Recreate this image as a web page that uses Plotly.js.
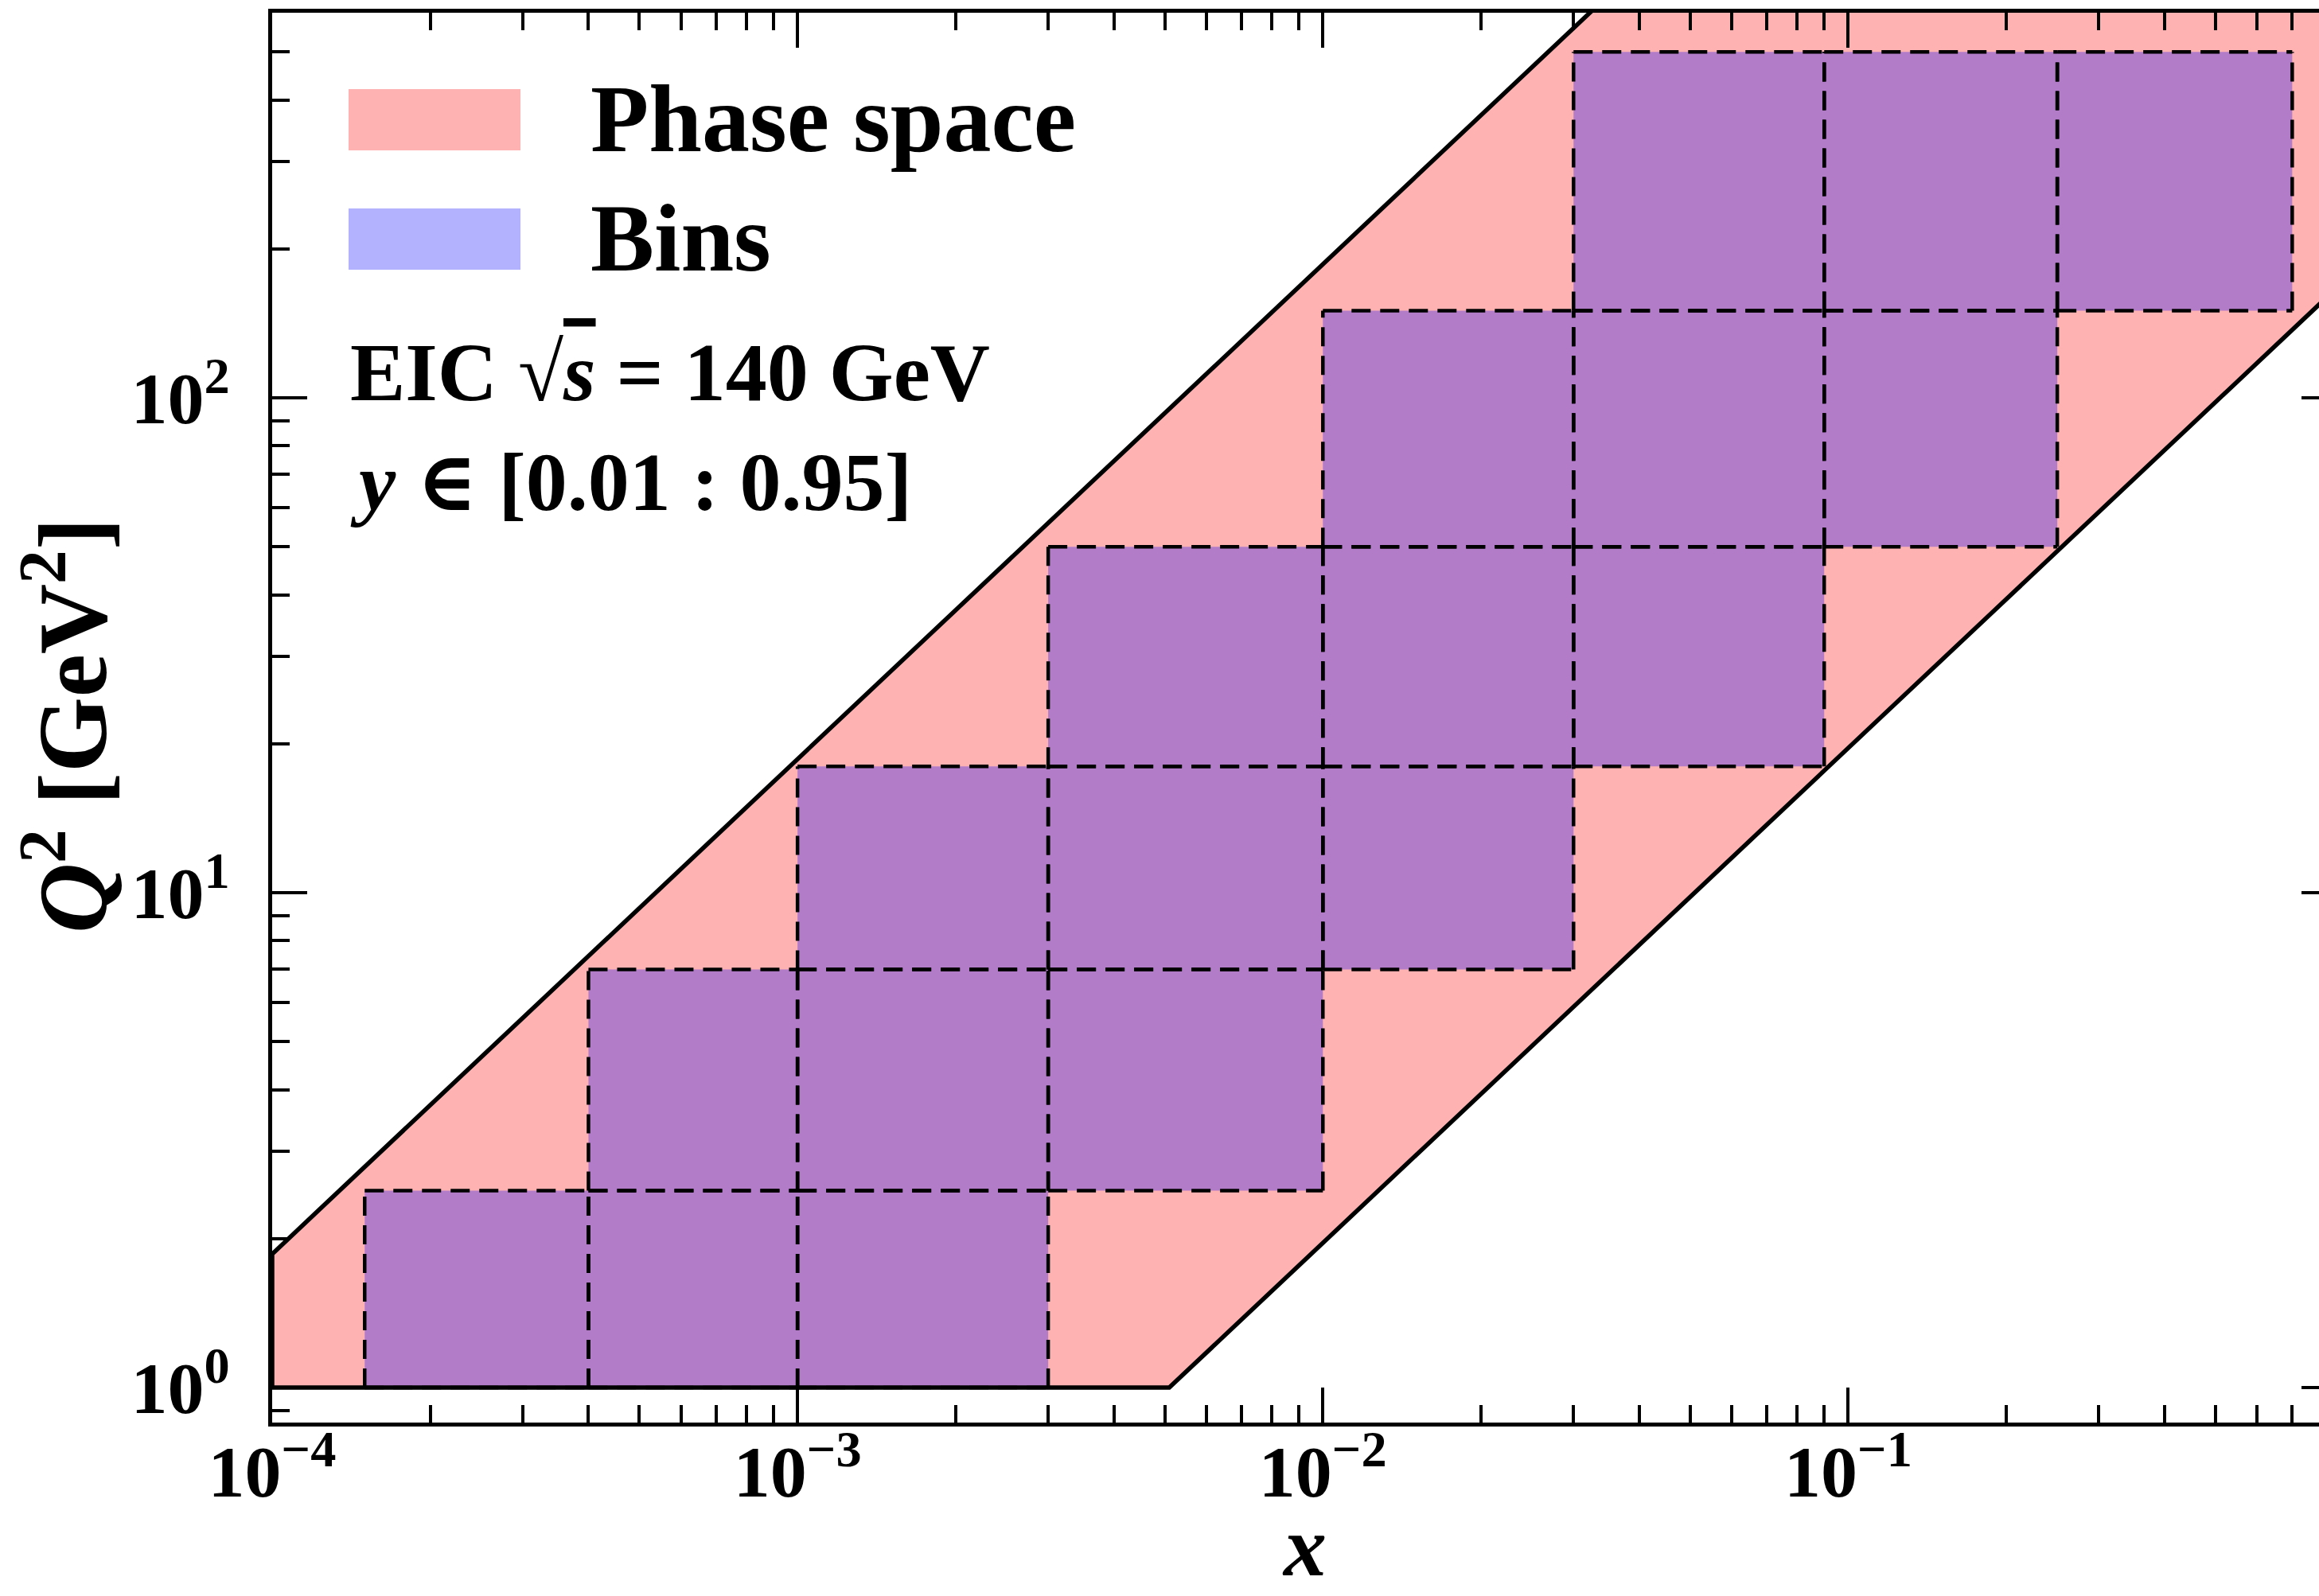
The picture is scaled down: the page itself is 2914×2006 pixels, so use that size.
<!DOCTYPE html>
<html>
<head>
<meta charset="utf-8">
<script src="https://cdn.plot.ly/plotly-3.0.1.min.js"></script>
<style>
html, body { margin:0; padding:0; overflow:hidden; background:#ffffff; }
#chart { width:2960px; height:2006px; }
</style>
</head>
<body>
<div id="chart"></div>
<script>
// ---- Data ----
// Phase-space boundary (EIC, sqrt(s)=140 GeV, y in [0.01, 0.95]); vertices (x, Q^2)
const phaseX  = [1e-4, 5.1e-3, 1.0, 1.0, 1e-4, 1e-4];
const phaseQ2 = [1.0, 1.0, 196, 18620, 1.862, 1.0];

// Analysis bins: x edges and Q^2 edges
const binXlo  = [1.5e-4, 4e-4, 1e-3,   4e-4, 1e-3, 3e-3,   1e-3, 3e-3, 1e-2,   3e-3, 1e-2, 3e-2,   1e-2, 3e-2, 9e-2,   3e-2, 9e-2, 0.25];
const binXhi  = [4e-4,   1e-3, 3e-3,   1e-3, 3e-3, 1e-2,   3e-3, 1e-2, 3e-2,   1e-2, 3e-2, 9e-2,   3e-2, 9e-2, 0.25,   9e-2, 0.25, 0.7];
const binQ2lo = [1, 1, 1,   2.5, 2.5, 2.5,   7, 7, 7,   18, 18, 18,   50, 50, 50,   150, 150, 150];
const binQ2hi = [2.5, 2.5, 2.5,   7, 7, 7,   18, 18, 18,   50, 50, 50,   150, 150, 150,   500, 500, 500];

// Axis ticks and labels
const xTickVals = [1e-4, 1e-3, 1e-2, 1e-1];
const xTickText = ['10<sup>\u22124</sup>', '10<sup>\u22123</sup>', '10<sup>\u22122</sup>', '10<sup>\u22121</sup>'];
const yTickVals = [1, 10, 100];
const yTickText = ['10<sup>0</sup>', '10<sup>1</sup>', '10<sup>2</sup>'];
const xRange = [1e-4, 0.85];
const yRange = [0.85, 600];
const xTitle = '<i>x</i>';
const yTitle = '<i>Q</i><sup>2</sup> [GeV<sup>2</sup>]';

const legendLabels = ['Phase space', 'Bins'];
const infoLines = ['EIC \u221A<span style="text-decoration:overline"><i>s</i></span> = 140 GeV', '<i>y</i> \u2208 [0.01 : 0.95]'];

// ---- Build traces ----
const FONT = 'Liberation Serif, DejaVu Serif, serif';
const pink = 'rgba(255,0,0,0.3)';
const blue = 'rgba(0,0,255,0.3)';

// bin fills (separate closed shapes via gaps)
const fx = [], fy = [];
// bin dashed edges (each edge a separate sub-path, drawn left->right / bottom->top)
const ex = [], ey = [];
for (let i = 0; i < binXlo.length; i++) {
  fx.push(binXlo[i], binXhi[i], binXhi[i], binXlo[i], binXlo[i], null);
  fy.push(binQ2lo[i], binQ2lo[i], binQ2hi[i], binQ2hi[i], binQ2lo[i], null);
  ex.push(binXlo[i], binXhi[i], null, binXlo[i], binXhi[i], null, binXlo[i], binXlo[i], null, binXhi[i], binXhi[i], null);
  ey.push(binQ2lo[i], binQ2lo[i], null, binQ2hi[i], binQ2hi[i], null, binQ2lo[i], binQ2hi[i], null, binQ2lo[i], binQ2hi[i], null);
}

const traces = [
  { type:'scatter', mode:'none', x:phaseX, y:phaseQ2, fill:'toself', fillcolor:pink,
    name:legendLabels[0], showlegend:false, hoverinfo:'skip' },
  { type:'scatter', mode:'none', x:fx, y:fy, fill:'toself', fillcolor:blue,
    name:legendLabels[1], showlegend:false, hoverinfo:'skip', connectgaps:false },
  { type:'scatter', mode:'lines', x:ex, y:ey, connectgaps:false,
    line:{color:'#000000', width:4.5, dash:'24px,12px'}, showlegend:false, hoverinfo:'skip' },
  { type:'scatter', mode:'lines', x:phaseX, y:phaseQ2,
    line:{color:'#000000', width:5.5}, showlegend:false, hoverinfo:'skip' }
];

// minor tick positions (axis decoration)
function minorTicks(lo, hi) {
  const out = [];
  for (let e = Math.floor(Math.log10(lo)); e <= Math.ceil(Math.log10(hi)); e++) {
    for (let d = 2; d <= 9; d++) {
      const v = d * Math.pow(10, e);
      if (v >= lo && v <= hi) out.push(v);
    }
  }
  return out;
}

// ---- Layout ----
const W = 2960, H = 2006;
const M = {l:342, r:24, t:16, b:218};
const pw = W - M.l - M.r, ph = H - M.t - M.b;
const px = v => (v - M.l) / pw;          // pixel -> paper x
const py = v => (H - M.b - v) / ph;      // pixel -> paper y

const tickFont = {family:FONT, size:92, color:'#000', weight:'bold'};
const axisCommon = {
  type:'log', showgrid:false, zeroline:false,
  showline:true, linecolor:'#000', linewidth:5, mirror:'ticks',
  ticks:'inside', ticklen:44, tickwidth:4, tickcolor:'#000',
  tickmode:'array', tickfont:tickFont
};

const layout = {
  width:W, height:H,
  margin:M,
  paper_bgcolor:'#ffffff', plot_bgcolor:'#ffffff',
  showlegend:false,
  xaxis: Object.assign({}, axisCommon, {
    range:[Math.log10(xRange[0]), Math.log10(xRange[1])],
    tickvals:xTickVals, ticktext:xTickText, ticklabelstandoff:-22,
    minor:{tickmode:'array', tickvals:minorTicks(xRange[0], xRange[1]), ticks:'inside', ticklen:22, tickwidth:4, tickcolor:'#000', showgrid:false}
  }),
  yaxis: Object.assign({}, axisCommon, {
    range:[Math.log10(yRange[0]), Math.log10(yRange[1])],
    tickvals:yTickVals, ticktext:yTickText, ticklabelstandoff:30,
    minor:{tickmode:'array', tickvals:minorTicks(yRange[0], yRange[1]), ticks:'inside', ticklen:22, tickwidth:4, tickcolor:'#000', showgrid:false}
  }),
  shapes:[
    {type:'rect', xref:'paper', yref:'paper', x0:px(438), x1:px(654), y0:py(189), y1:py(112), fillcolor:pink, line:{width:0}},
    {type:'rect', xref:'paper', yref:'paper', x0:px(438), x1:px(654), y0:py(339), y1:py(262), fillcolor:blue, line:{width:0}}
  ],
  annotations:[
    // axis titles
    {xref:'paper', yref:'paper', x:0.5, y:py(2005), xanchor:'center', yanchor:'bottom', showarrow:false,
     text:xTitle, font:{family:FONT, size:108, color:'#000', weight:'bold'}},
    {xref:'paper', yref:'paper', x:px(82), y:py(912), xanchor:'center', yanchor:'middle', showarrow:false, textangle:-90,
     text:yTitle, font:{family:FONT, size:122, color:'#000', weight:'bold'}},
    // legend labels
    {xref:'paper', yref:'paper', x:px(740), y:py(150), xanchor:'left', yanchor:'middle', showarrow:false,
     text:legendLabels[0], font:{family:FONT, size:120, color:'#000', weight:'bold'}},
    {xref:'paper', yref:'paper', x:px(740), y:py(299), xanchor:'left', yanchor:'middle', showarrow:false,
     text:legendLabels[1], font:{family:FONT, size:120, color:'#000', weight:'bold'}},
    // info text
    {xref:'paper', yref:'paper', x:px(438), y:py(467), xanchor:'left', yanchor:'middle', showarrow:false,
     text:infoLines[0], font:{family:FONT, size:104, color:'#000', weight:'bold'}},
    {xref:'paper', yref:'paper', x:px(438), y:py(605), xanchor:'left', yanchor:'middle', showarrow:false,
     text:infoLines[1], font:{family:FONT, size:104, color:'#000', weight:'bold'}}
  ]
};

Plotly.newPlot('chart', traces, layout, {displayModeBar:false, staticPlot:true});
</script>
</body>
</html>
